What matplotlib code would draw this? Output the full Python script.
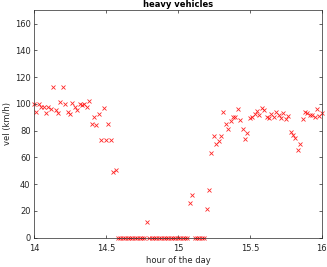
import numpy as np
import matplotlib
matplotlib.use('Agg')
import matplotlib.pyplot as plt

# one sample per minute between 14:00 and 16:00
minutes = np.arange(121)
hours = 14 + minutes / 60.0

speeds = [100, 94, 100, 97.6, 97.8, 93, 97.6, 96, 112.3, 95.6,
          93.4, 101.6, 112.6, 100, 93.9, 92.1, 100.3, 97.6, 95.6, 100,
          99.4, 99.8, 97.8, 102.3, 85.1, 90.1, 84.1, 92.1, 72.6, 97.1,
          73.1, 85.1, 73.1, 49.2, 50.4,
          0, 0, 0, 0, 0, 0, 0, 0, 0, 0, 0, 0,
          12,
          0, 0, 0, 0, 0, 0, 0, 0, 0, 0, 0, 0, 0, 0, 0, 0, 0,
          26, 32.2,
          0, 0, 0, 0, 0,
          21.2, 35.4, 63.6, 76.1, 70.1, 71.9, 76.1, 94.1, 85.1, 80.9,
          87.1, 90.1, 90.1, 96.1, 88.1, 81.1, 73.9, 78.4, 89.4, 90.1,
          92.1, 94.4, 91.4, 96.8, 95.4, 89.9, 89.1, 92.1, 90.1, 94.1,
          91.6, 89.4, 93.4, 88.4, 91.1, 79.1, 76.4, 74.1, 65.2, 69.9,
          88.4, 94.1, 92.9, 91.4, 91.4, 90.1, 96.1, 91.1, 93.1]

xticks = [14, 14.5, 15, 15.5, 16]
xtick_labels = ['14', '14.5', '15', '15.5', '16']
yticks = [0, 20, 40, 60, 80, 100, 120, 140, 160]

fig = plt.figure(figsize=(3.27, 2.67), dpi=100)
ax = fig.add_axes([0.104, 0.11, 0.88, 0.852])

ax.plot(hours, speeds, 'x', color='red', markersize=3.2, markeredgewidth=0.6,
        alpha=0.85, clip_on=False)

ax.set_xlim(14, 16)
ax.set_ylim(0, 170)
ax.set_xticks(xticks)
ax.set_xticklabels(xtick_labels)
ax.set_yticks(yticks)

axis_color = '#262626'
for s in ax.spines.values():
    s.set_color(axis_color)
    s.set_linewidth(0.5)
ax.tick_params(direction='in', length=2.5, width=0.5, colors=axis_color,
               labelsize=6, top=True, right=True)
ax.tick_params(axis='y', pad=2.5)
ax.tick_params(axis='x', pad=4.5)

ax.set_xlabel('hour of the day', fontsize=6, color=axis_color, labelpad=2)
ax.set_ylabel('vel (km/h)', fontsize=6, color=axis_color, labelpad=2)
ax.set_title('heavy vehicles', fontsize=6, fontweight='bold', pad=2)

plt.savefig('out.png', dpi=100)
plt.close()
